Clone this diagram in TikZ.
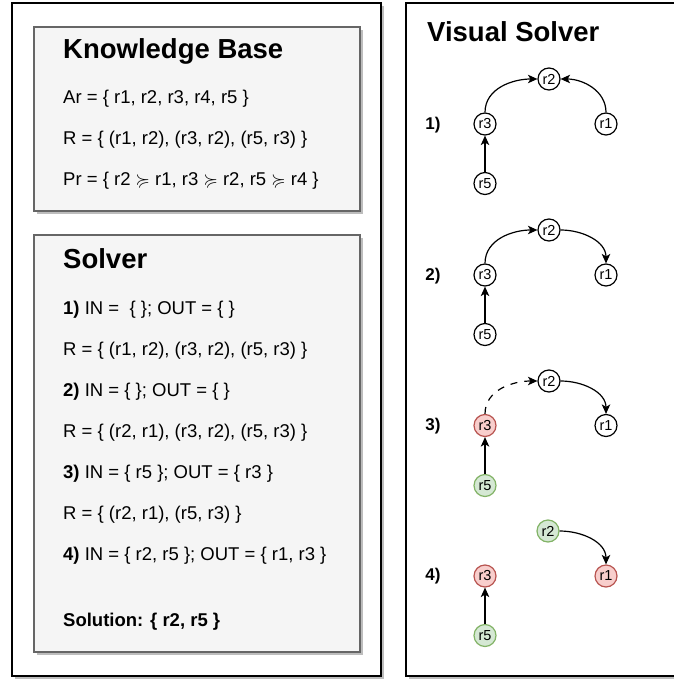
\documentclass[tikz,border=0pt]{standalone}
\usepackage{amssymb}
\usepackage{fontspec}
\setmainfont{Liberation Sans}
\usetikzlibrary{positioning,arrows.meta}

\definecolor{boxfill}{HTML}{F5F5F5}
\definecolor{boxline}{HTML}{666666}
\definecolor{greenfill}{HTML}{D5E8D4}
\definecolor{greenline}{HTML}{82B366}
\definecolor{redfill}{HTML}{F8CECC}
\definecolor{redline}{HTML}{B85450}
\definecolor{shade}{HTML}{BDBDBD}

\begin{document}
\begin{tikzpicture}[x=1pt, y=-1pt,
    txt/.style={anchor=base west, inner sep=0pt, font=\fontsize{18.5}{22}\selectfont},
    ttl/.style={anchor=base west, inner sep=0pt, font=\bfseries\fontsize{27.5}{32}\selectfont},
    stp/.style={font=\bfseries\fontsize{17}{20}\selectfont},
    arg/.style={circle, draw, line width=1.2pt, fill=white, minimum size=22pt, inner sep=0pt, font=\fontsize{14.5}{16}\selectfont},
    acc/.style={arg, fill=greenfill, draw=greenline},
    rej/.style={arg, fill=redfill, draw=redline},
    att/.style={line width=1.2pt, -{Stealth[length=9.5pt, width=8.5pt, inset=2.5pt]}},
    panel/.style={draw=black, line width=1.1pt, fill=white},
    card/.style={draw=boxline, line width=1.2pt, fill=boxfill},
    shd/.style={fill=shade, draw=none}]

    \useasboundingbox (0,0) rectangle (673,679);

    % Panels
    \fill[shd] (15,6) rectangle (384,679);
    \draw[panel] (12,3) rectangle (381,676);
    \fill[shd] (409,6) rectangle (681,679);
    \draw[panel] (406,3) rectangle (678,676);

    % Knowledge Base
    \fill[shd] (37,30) rectangle (363,214);
    \draw[card] (34,27) rectangle (360,211);
    \node[ttl] (kb) at (63,59) {Knowledge Base};
    \node[txt] (ar) at (63,104) {Ar = \{ r1, r2, r3, r4, r5 \}};
    \node[txt] (rel) at (63,144.5) {R = \{ (r1, r2), (r3, r2), (r5, r3) \}};
    \node[txt] (pr) at (63,185) {Pr = \{ r2 $\succcurlyeq$ r1, r3 $\succcurlyeq$ r2, r5 $\succcurlyeq$ r4 \}};

    % Solver
    \fill[shd] (37,238) rectangle (363,655);
    \draw[card] (34,235) rectangle (360,652);
    \node[ttl] (sol) at (63,268) {Solver};
    \node[txt] (in1) at (63,314) {\textbf{1)} IN = \ \{ \}; OUT = \{ \}};
    \node[txt] (rel1) at (63,355) {R = \{ (r1, r2), (r3, r2), (r5, r3) \}};
    \node[txt] (in2) at (63,396) {\textbf{2)} IN = \{ \}; OUT = \{ \}};
    \node[txt] (rel2) at (63,437.5) {R = \{ (r2, r1), (r3, r2), (r5, r3) \}};
    \node[txt] (in3) at (63,478.5) {\textbf{3)} IN = \{ r5 \}; OUT = \{ r3 \}};
    \node[txt] (rel3) at (63,519.5) {R = \{ (r2, r1), (r5, r3) \}};
    \node[txt] (in4) at (63,560.5) {\textbf{4)} IN = \{ r2, r5 \}; OUT = \{ r1, r3 \}};
    \node[txt, font=\bfseries\fontsize{18.5}{22}\selectfont] (res) at (63,626) {Solution: \{ r2, r5 \}};

    % Visual Solver
    \node[ttl] (vs) at (427,42) {Visual Solver};

    % Step 1
    \node[stp] (l1) at (433,125) {1)};
    \node[arg] (s1r2) at (549,79) {r2};
    \node[arg] (s1r3) at (485,124) {r3};
    \node[arg] (s1r1) at (606,124) {r1};
    \node[arg] (s1r5) at (485,183.5) {r5};
    \draw[att] (s1r3.north) to[out=90,in=180] (s1r2.west);
    \draw[att] (s1r1.north) to[out=90,in=0] (s1r2.east);
    \draw[att] (s1r5) -- (s1r3);

    % Step 2
    \node[stp] (l2) at (433,276) {2)};
    \node[arg] (s2r2) at (549,230) {r2};
    \node[arg] (s2r3) at (485,275) {r3};
    \node[arg] (s2r1) at (606,275) {r1};
    \node[arg] (s2r5) at (485,334.5) {r5};
    \draw[att] (s2r3.north) to[out=90,in=180] (s2r2.west);
    \draw[att] (s2r2.east) to[out=0,in=90] (s2r1.north);
    \draw[att] (s2r5) -- (s2r3);

    % Step 3
    \node[stp] (l3) at (433,426) {3)};
    \node[arg] (s3r2) at (549,381) {r2};
    \node[rej] (s3r3) at (485,425.5) {r3};
    \node[arg] (s3r1) at (606,425.5) {r1};
    \node[acc] (s3r5) at (485,485.5) {r5};
    \draw[att, dash pattern=on 7pt off 7pt] (s3r3.north) to[out=90,in=180] (s3r2.west);
    \draw[att] (s3r2.east) to[out=0,in=90] (s3r1.north);
    \draw[att] (s3r5) -- (s3r3);

    % Step 4
    \node[stp] (l4) at (433,576) {4)};
    \node[acc] (s4r2) at (548,531) {r2};
    \node[rej] (s4r3) at (485,576) {r3};
    \node[rej] (s4r1) at (606,576) {r1};
    \node[acc] (s4r5) at (485,635.5) {r5};
    \draw[att] (s4r2.east) to[out=0,in=90] (s4r1.north);
    \draw[att] (s4r5) -- (s4r3);

\end{tikzpicture}
\end{document}
